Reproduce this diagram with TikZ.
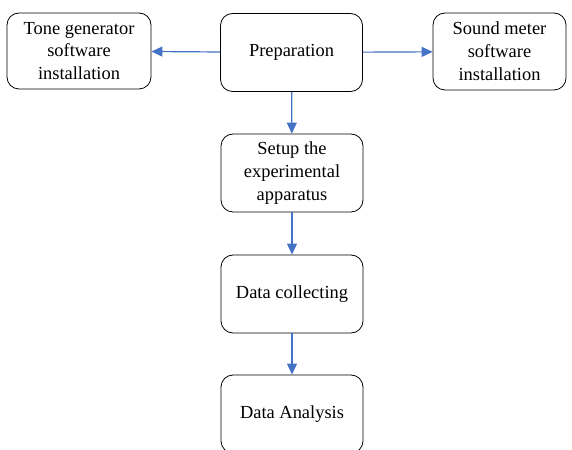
\documentclass[tikz,border=0pt]{standalone}
\usepackage{fontspec}
\setmainfont{Liberation Serif}
\usetikzlibrary{arrows.meta}

\definecolor{flowblue}{HTML}{4472C4}

\begin{document}
\begin{tikzpicture}[x=1bp, y=-1bp,
  main node/.style={draw, thick, rounded corners=12bp, align=center,
    minimum width=142bp, minimum height=78bp,
    font=\fontsize{18.5}{23}\selectfont},
  flow/.style={draw=flowblue, line width=1.2bp, -{Triangle[length=11bp,width=10bp]}, color=flowblue}]
  \useasboundingbox (0,0) rectangle (572,450);

  % top row
  \node[main node] (prep) at (291.5,52.5) {Preparation};
  \node[main node, minimum width=144bp, minimum height=76bp] (tone) at (79,51) {Tone generator\\software\\installation};
  \node[main node, minimum width=133bp, minimum height=77bp] (meter) at (499.5,51.5) {Sound meter\\software\\installation};

  % main chain
  \node[main node] (setup) at (292,173) {Setup the\\experimental\\apparatus};
  \node[main node] (collect) at (292,294) {Data collecting};
  \node[main node] (analysis) at (292,414) {Data Analysis};

  \path (prep) [flow] edge (tone)
  (prep) [flow] edge (meter)
  (prep) [flow] edge (setup)
  (setup) [flow] edge (collect)
  (collect) [flow] edge (analysis);
\end{tikzpicture}
\end{document}
